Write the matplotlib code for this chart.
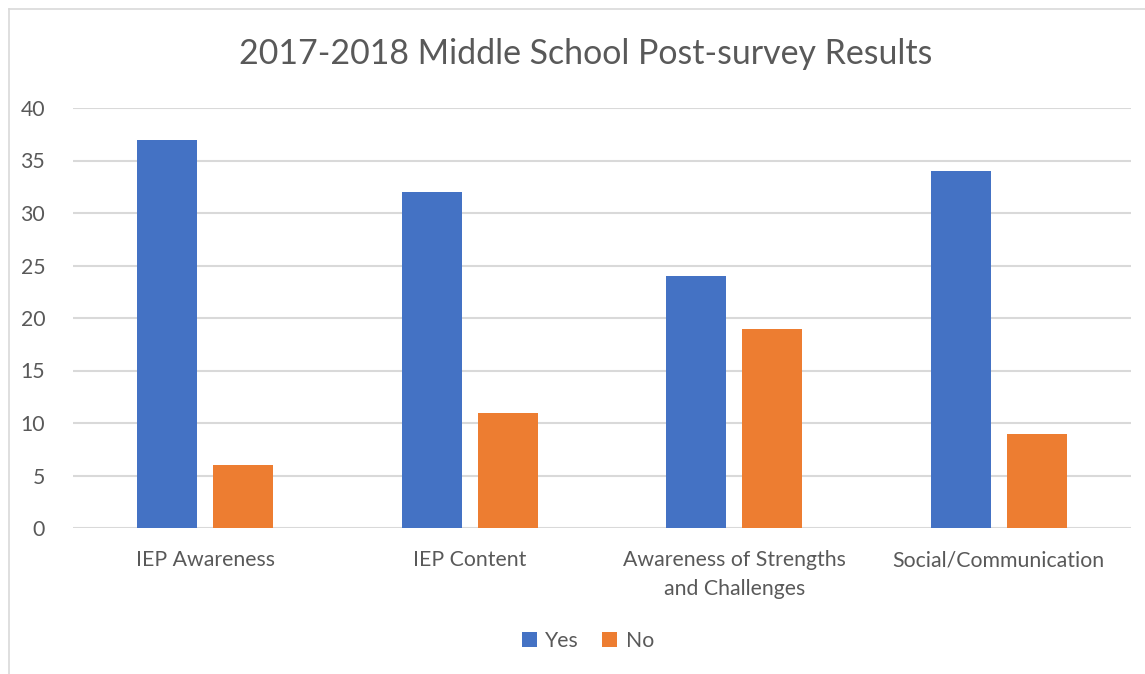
import matplotlib.pyplot as plt
import numpy as np
from matplotlib.lines import Line2D

categories = ["IEP Awareness", "IEP Content", "Awareness of Strengths\nand Challenges", "Social/Communication"]
yes_counts = [37, 32, 24, 34]
no_counts = [6, 11, 19, 9]
y_ticks = [0, 5, 10, 15, 20, 25, 30, 35, 40]

W, H = 1145, 674
plt.rcParams['font.family'] = ['Lato', 'DejaVu Sans']
text_col = '#595959'
grid_col = '#D9D9D9'

fig = plt.figure(figsize=(W / 100, H / 100), dpi=100)
ax = fig.add_axes([73 / W, 1 - 528 / H, (1131 - 73) / W, (528 - 108) / H])

x = np.arange(len(categories))
bw = 0.227
ax.bar(x - 0.1437, yes_counts, bw, color='#4472C4', label='Yes', zorder=3)
ax.bar(x + 0.1437, no_counts, bw, color='#ED7D31', label='No', zorder=3)

ax.set_xlim(-0.5, len(categories) - 0.5)
ax.set_ylim(0, 40)
ax.set_yticks(y_ticks)
ax.set_xticks(x)
ax.set_xticklabels(categories, linespacing=1.55)
ax.tick_params(axis='both', length=0, labelsize=15.3, labelcolor=text_col)
ax.tick_params(axis='y', pad=20)
ax.tick_params(axis='x', pad=16)
ax.yaxis.grid(True, color=grid_col, linewidth=1.5, zorder=0)
for s in ax.spines.values():
    s.set_visible(False)

fig.text(586 / W, 1 - 54 / H, "2017-2018 Middle School Post-survey Results",
         ha='center', va='center', fontsize=24.4, color=text_col)

fig.legend(loc='center', bbox_to_anchor=(588 / W, 1 - 641 / H), ncol=2, frameon=False,
           fontsize=15.3, labelcolor=text_col, handlelength=0.7, handleheight=0.7,
           handletextpad=0.4, columnspacing=1.1)

# chart-area border
fig.add_artist(Line2D([9 / W, 9 / W], [0, 1 - 9 / H], color=grid_col, linewidth=1.2))
fig.add_artist(Line2D([9 / W, 1], [1 - 9 / H, 1 - 9 / H], color=grid_col, linewidth=1.2))

fig.savefig('out.png', dpi=100)
